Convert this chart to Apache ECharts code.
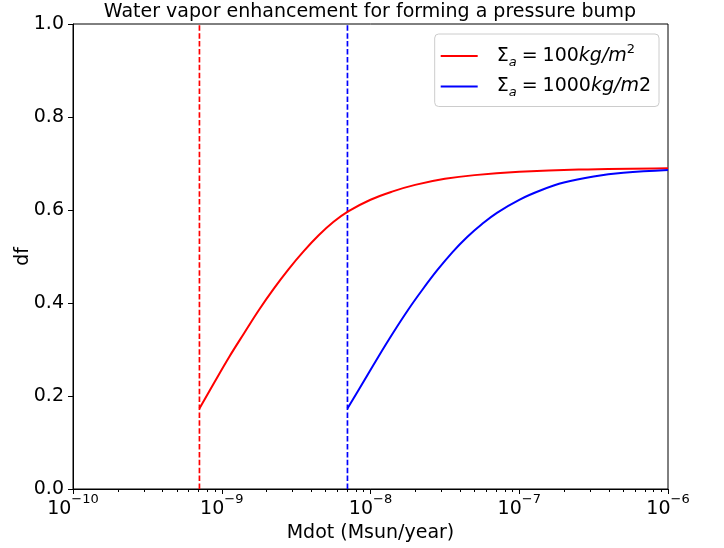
<!DOCTYPE html>
<html>
<head>
<meta charset="utf-8">
<script src="https://cdn.jsdelivr.net/npm/echarts@6/dist/echarts.min.js"></script>
<style>
html,body{margin:0;padding:0;background:#fff;}
#chart{width:724px;height:548px;}
</style>
</head>
<body>
<div id="chart"></div>
<script>
// ---- data ----
const titleText = 'Water vapor enhancement for forming a pressure bump';
const xLabel = 'Mdot (Msun/year)';
const yLabel = 'df';
const seriesNames = ['Σa = 100kg/m^2', 'Σa = 1000kg/m2'];
const seriesColors = ['#ff0000', '#0000ff'];

const redX = [7.08e-10, 8.91e-10, 1.122e-9, 1.413e-9, 1.778e-9, 2.239e-9, 2.818e-9, 3.548e-9, 4.467e-9, 5.623e-9, 7.079e-9, 1e-8, 1.413e-8, 1.995e-8, 3.162e-8, 5.012e-8, 1e-7, 2.512e-7, 1e-6];
const redY = [0.173, 0.229, 0.284, 0.335, 0.385, 0.431, 0.473, 0.511, 0.545, 0.574, 0.597, 0.622, 0.640, 0.654, 0.667, 0.675, 0.682, 0.687, 0.690];

const blueX = [7.0e-9, 8.91e-9, 1.122e-8, 1.413e-8, 1.778e-8, 2.239e-8, 2.818e-8, 3.548e-8, 4.467e-8, 5.623e-8, 7.079e-8, 1e-7, 1.413e-7, 1.995e-7, 3.162e-7, 5.012e-7, 1e-6];
const blueY = [0.173, 0.229, 0.283, 0.335, 0.384, 0.429, 0.471, 0.509, 0.542, 0.570, 0.594, 0.622, 0.643, 0.659, 0.672, 0.680, 0.686];

const vlineX = [7.08e-10, 7.0e-9];   // dashed vertical lines (red, blue)

const xMin = 1e-10, xMax = 1e-6;
const yMin = 0, yMax = 1, yStep = 0.2;
const xMinorTicks = [];
for (let e = -10; e < -6; e++) for (let m = 2; m <= 9; m++) xMinorTicks.push(m * Math.pow(10, e));

// ---- chart ----
const FONT = 'DejaVu Sans';
const FS = 19;
const chart = echarts.init(document.getElementById('chart'), null, {renderer: 'canvas'});

function zip(xs, ys) { return xs.map((x, i) => [x, ys[i]]); }

const legendRich = {
  n: {fontFamily: FONT, fontSize: FS, color: '#000', lineHeight: 26},
  eq: {fontFamily: FONT, fontSize: FS, color: '#000', lineHeight: 26, padding: [0, 5, 0, 5]},
  i: {fontFamily: FONT, fontSize: FS, color: '#000', fontStyle: 'italic', lineHeight: 26},
  s: {fontFamily: FONT, fontSize: 13, color: '#000', fontStyle: 'italic', verticalAlign: 'bottom', lineHeight: 15},
  p: {fontFamily: FONT, fontSize: 13, color: '#000', verticalAlign: 'top', lineHeight: 15}
};

function vline(x, color) {
  return {
    type: 'line', data: [[x, yMin], [x, yMax]], symbol: 'none', silent: true,
    color: color, lineStyle: {color: color, type: [5.5, 2.4], width: 1.7}, z: 1
  };
}

const option = {
  backgroundColor: '#ffffff',
  animation: false,
  title: {
    text: titleText,
    left: 370,
    textAlign: 'center',
    top: 3,
    padding: 0,
    textStyle: {fontFamily: FONT, fontSize: FS, fontWeight: 'normal', color: '#000'}
  },
  grid: {left: 73, right: 56, top: 24, bottom: 59, show: true, borderColor: '#000', borderWidth: 1, backgroundColor: 'transparent', containLabel: false},
  legend: {
    right: 65, top: 34,
    orient: 'vertical',
    itemWidth: 37, itemHeight: 2,
    itemGap: 8,
    icon: 'rect',
    padding: [9, 8, 7, 6],
    borderColor: '#cccccc', borderWidth: 1, borderRadius: 4,
    backgroundColor: 'rgba(255,255,255,0.8)',
    data: seriesNames,
    formatter: function (name) {
      const idx = seriesNames.indexOf(name);
      if (idx === 0) return '{n|Σ}{s|a}{eq|=}{n|100}{i|kg/m}{p|2}';
      return '{n|Σ}{s|a}{eq|=}{n|1000}{i|kg/m}{n|2}';
    },
    textStyle: {padding: [0, 0, 0, 14], rich: legendRich}
  },
  xAxis: [{
    type: 'log', logBase: 10, min: xMin, max: xMax, splitNumber: 4,
    name: xLabel, nameLocation: 'middle', nameGap: 33,
    nameTextStyle: {fontFamily: FONT, fontSize: FS, color: '#000'},
    axisLine: {show: true, onZero: false, lineStyle: {color: '#000', width: 1}},
    axisTick: {show: true, length: 5, lineStyle: {color: '#000', width: 1}},
    splitLine: {show: false},
    axisLabel: {
      margin: 4,
      formatter: function (v) {
        const e = Math.round(Math.log10(v));
        return '{b|10}{e|−' + Math.abs(e) + '}';
      },
      rich: {
        b: {fontFamily: FONT, fontSize: FS, color: '#000', lineHeight: 26, verticalAlign: 'bottom'},
        e: {fontFamily: FONT, fontSize: 13, color: '#000', lineHeight: 15, verticalAlign: 'top'}
      }
    }
  }, {
    type: 'log', logBase: 10, min: xMin, max: xMax, gridIndex: 0, position: 'bottom',
    axisLine: {show: false},
    axisLabel: {show: false},
    splitLine: {show: false},
    axisTick: {show: true, length: 3, customValues: xMinorTicks, lineStyle: {color: '#000', width: 1}}
  }],
  yAxis: {
    type: 'value', min: yMin, max: yMax, interval: yStep,
    name: yLabel, nameLocation: 'middle', nameGap: 40, nameMoveOverlap: false,
    nameTextStyle: {fontFamily: FONT, fontSize: FS, color: '#000'},
    axisLine: {show: true, lineStyle: {color: '#000', width: 1}},
    axisTick: {show: true, length: 5, lineStyle: {color: '#000', width: 1}},
    splitLine: {show: false},
    axisLabel: {margin: 9, fontFamily: FONT, fontSize: FS, color: '#000', formatter: v => v.toFixed(1)}
  },
  series: [{
    name: seriesNames[0], type: 'line', data: zip(redX, redY), smooth: 0.4,
    symbol: 'none', color: seriesColors[0], lineStyle: {color: seriesColors[0], width: 2}, z: 3
  }, {
    name: seriesNames[1], type: 'line', data: zip(blueX, blueY), smooth: 0.4,
    symbol: 'none', color: seriesColors[1], lineStyle: {color: seriesColors[1], width: 2}, z: 3
  },
  vline(vlineX[0], seriesColors[0]),
  vline(vlineX[1], seriesColors[1])]
};
chart.setOption(option);
</script>
</body>
</html>
